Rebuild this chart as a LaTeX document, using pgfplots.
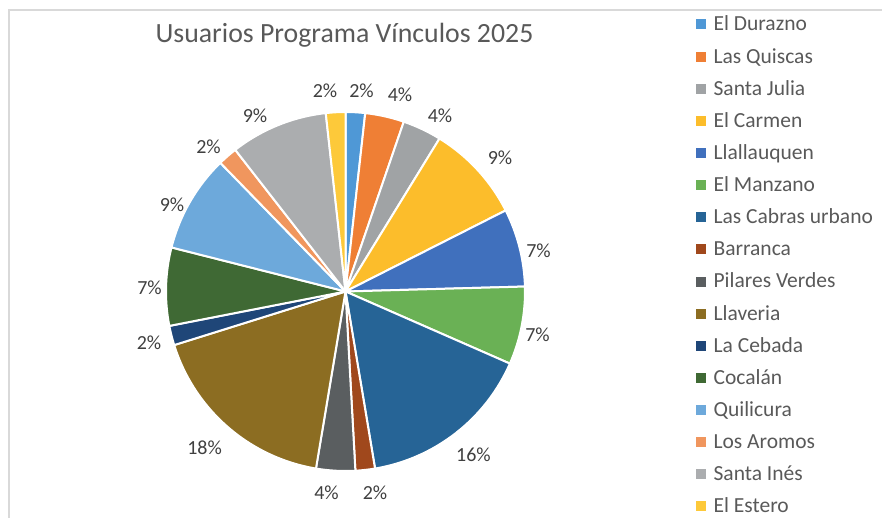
\documentclass[border=0pt]{standalone}
\usepackage{pgfplots}
\pgfplotsset{compat=1.18}
\usepackage{pgfplotstable}
\usepackage{fontspec}
\setmainfont{Carlito}
\definecolor{c0}{HTML}{4F98D6}
\definecolor{c1}{HTML}{EF7F35}
\definecolor{c2}{HTML}{A0A3A5}
\definecolor{c3}{HTML}{FCBD2B}
\definecolor{c4}{HTML}{4070BD}
\definecolor{c5}{HTML}{6AB155}
\definecolor{c6}{HTML}{266496}
\definecolor{c7}{HTML}{A0481C}
\definecolor{c8}{HTML}{5A5E60}
\definecolor{c9}{HTML}{8C6D22}
\definecolor{c10}{HTML}{1F4678}
\definecolor{c11}{HTML}{3F6934}
\definecolor{c12}{HTML}{6DA9DB}
\definecolor{c13}{HTML}{F0965E}
\definecolor{c14}{HTML}{ABADAF}
\definecolor{c15}{HTML}{FDC93A}
\definecolor{titlegray}{HTML}{595959}
\definecolor{labelgray}{HTML}{404040}
\definecolor{framegray}{HTML}{D9D9D9}

% users per locality (total 57); cx, cy = pie centre;
% la, lr = angle and distance of the percentage label
\pgfplotstableread{
cx cy idx value prev la lr
345.5 226.5 0 1 0 85.44 201.1
345.5 226.5 1 2 1 74.46 203.4
345.5 226.5 2 2 3 61.70 199.3
345.5 226.5 3 5 5 40.72 203.9
345.5 226.5 4 4 10 11.85 197.2
345.5 226.5 5 4 14 -12.77 196.9
345.5 226.5 6 9 18 -51.94 207.6
345.5 226.5 7 1 27 -81.69 204.1
345.5 226.5 8 2 28 -95.37 202.9
345.5 226.5 9 10 30 -131.92 211.0
345.5 226.5 10 1 40 -165.18 203.3
345.5 226.5 11 4 41 179.12 196.0
345.5 226.5 12 5 45 153.50 193.9
345.5 226.5 13 1 50 133.57 198.8
345.5 226.5 14 5 51 117.35 197.0
345.5 226.5 15 1 56 95.84 201.5
}\piedata

\pgfdeclareplotmark{piecenter}{}

\begin{document}
\begin{tikzpicture}
\begin{axis}[
  at={(0,0)}, anchor=south west,
  scale only axis, width=882pt, height=518pt,
  xmin=0, xmax=882, ymin=0, ymax=518,
  hide axis, clip=false,
  title={Usuarios Programa Vínculos 2025},
  title style={at={(0.39059,0.90541)}, anchor=base, inner sep=0pt,
    font=\fontsize{27.8}{33}\selectfont, text=titlegray},
  legend cell align=left,
  legend style={at={(0.78912,0.96969)}, anchor=north west, draw=none, fill=none,
    inner sep=0pt, row sep=12.13pt,
    font=\fontsize{21.5}{25}\selectfont, text=titlegray,
    cells={anchor=base west},
    nodes={inner sep=0pt, text height=15pt, text depth=5pt}},
]
\addplot[forget plot, scatter, only marks, mark=piecenter,
  point meta=\thisrow{idx},
  visualization depends on={\thisrow{idx}\as\pieidxraw},
  visualization depends on={\thisrow{value}\as\pieval},
  visualization depends on={\thisrow{prev}\as\pieprev},
  visualization depends on={\thisrow{la}\as\piela},
  visualization depends on={\thisrow{lr}\as\pielr},
  scatter/@pre marker code/.code={%
    \pgfmathtruncatemacro\pieidx{round(\pieidxraw)}%
    \pgfmathsetmacro\sa{90-\pieprev/57*360}%
    \pgfmathsetmacro\ea{90-(\pieprev+\pieval)/57*360}%
    \pgfmathtruncatemacro\pct{round(\pieval/57*100)}%
    \fill[c\pieidx, draw=white, line width=2pt, line join=round]
      (0,0) -- (\sa:179.5pt) arc[start angle=\sa, end angle=\ea, radius=179.5pt] -- cycle;
    \node[anchor=center, font=\fontsize{20}{24}\selectfont, text=labelgray,
      text height=12.6pt, text depth=0pt, inner sep=0pt]
      at (\piela:\pielr pt) {\pct\%};
  },
  scatter/@post marker code/.code={},
] table[x=cx, y=cy] {\piedata};

\addlegendimage{legend image code/.code={\fill[c0] (0pt,2.2pt) rectangle (9pt,11.2pt); \path (17pt,2.2pt);}}
\addlegendimage{legend image code/.code={\fill[c1] (0pt,2.2pt) rectangle (9pt,11.2pt); \path (17pt,2.2pt);}}
\addlegendimage{legend image code/.code={\fill[c2] (0pt,2.2pt) rectangle (9pt,11.2pt); \path (17pt,2.2pt);}}
\addlegendimage{legend image code/.code={\fill[c3] (0pt,2.2pt) rectangle (9pt,11.2pt); \path (17pt,2.2pt);}}
\addlegendimage{legend image code/.code={\fill[c4] (0pt,2.2pt) rectangle (9pt,11.2pt); \path (17pt,2.2pt);}}
\addlegendimage{legend image code/.code={\fill[c5] (0pt,2.2pt) rectangle (9pt,11.2pt); \path (17pt,2.2pt);}}
\addlegendimage{legend image code/.code={\fill[c6] (0pt,2.2pt) rectangle (9pt,11.2pt); \path (17pt,2.2pt);}}
\addlegendimage{legend image code/.code={\fill[c7] (0pt,2.2pt) rectangle (9pt,11.2pt); \path (17pt,2.2pt);}}
\addlegendimage{legend image code/.code={\fill[c8] (0pt,2.2pt) rectangle (9pt,11.2pt); \path (17pt,2.2pt);}}
\addlegendimage{legend image code/.code={\fill[c9] (0pt,2.2pt) rectangle (9pt,11.2pt); \path (17pt,2.2pt);}}
\addlegendimage{legend image code/.code={\fill[c10] (0pt,2.2pt) rectangle (9pt,11.2pt); \path (17pt,2.2pt);}}
\addlegendimage{legend image code/.code={\fill[c11] (0pt,2.2pt) rectangle (9pt,11.2pt); \path (17pt,2.2pt);}}
\addlegendimage{legend image code/.code={\fill[c12] (0pt,2.2pt) rectangle (9pt,11.2pt); \path (17pt,2.2pt);}}
\addlegendimage{legend image code/.code={\fill[c13] (0pt,2.2pt) rectangle (9pt,11.2pt); \path (17pt,2.2pt);}}
\addlegendimage{legend image code/.code={\fill[c14] (0pt,2.2pt) rectangle (9pt,11.2pt); \path (17pt,2.2pt);}}
\addlegendimage{legend image code/.code={\fill[c15] (0pt,2.2pt) rectangle (9pt,11.2pt); \path (17pt,2.2pt);}}
\legend{El Durazno, Las Quiscas, Santa Julia, El Carmen, Llallauquen, El Manzano,
  Las Cabras urbano, Barranca, Pilares Verdes, Llaveria, La Cebada, Cocalán,
  Quilicura, Los Aromos, Santa Inés, El Estero}

\draw[framegray, line width=1.5pt] (axis cs:9,0) -- (axis cs:9,508) -- (axis cs:882,508);
\end{axis}
\pgfresetboundingbox
\useasboundingbox (0,0) rectangle (882pt,518pt);
\end{tikzpicture}
\end{document}
